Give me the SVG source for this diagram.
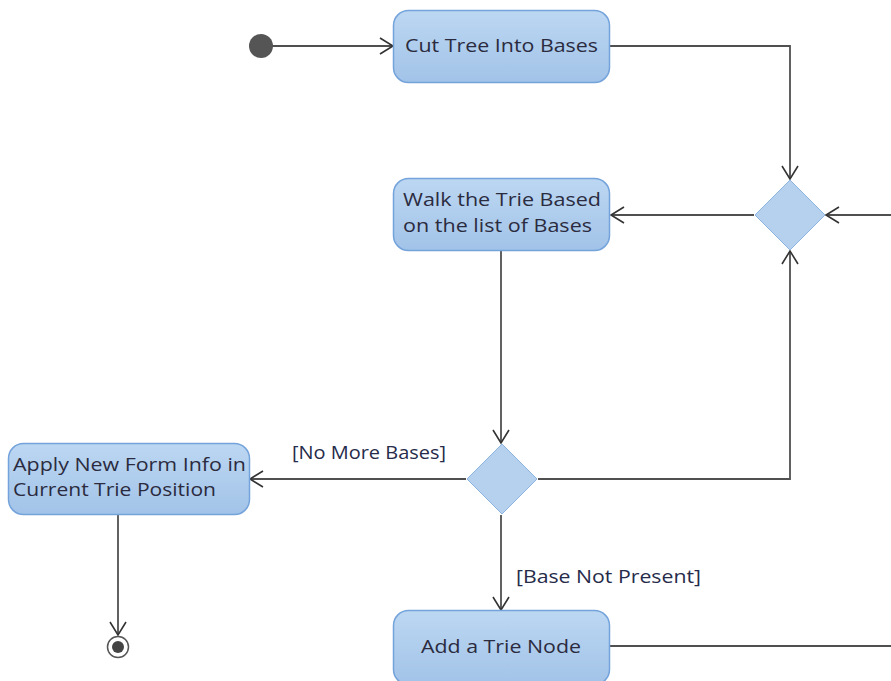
<svg xmlns="http://www.w3.org/2000/svg" width="891" height="681" viewBox="0 0 891 681">
  <defs>
    <linearGradient id="actFill" x1="0" y1="0" x2="0" y2="1">
      <stop offset="0" stop-color="#bcd7f2"/>
      <stop offset="1" stop-color="#a2c3e8"/>
    </linearGradient>
    <marker id="open" markerUnits="userSpaceOnUse" markerWidth="18" markerHeight="20" refX="14" refY="9" orient="auto" overflow="visible">
      <path d="M1,1 L14,9 L1,17" fill="none" stroke="#333" stroke-width="1.6"/>
    </marker>
    <style>
      .act rect { fill: url(#actFill); stroke: #74a3db; stroke-width: 1.5; }
      .dec path { fill: #b6d1ee; stroke: #8db3e2; stroke-width: 1; }
      .lbl { font-family: "Open Sans", "DejaVu Sans", sans-serif; font-size: 19px; fill: #2b2b3f; }
      .grd { font-family: "Open Sans", "DejaVu Sans", sans-serif; font-size: 17.5px; fill: #262b4a; }
      .edge { fill: none; stroke: #505050; stroke-width: 1.8; }
      .arr { marker-end: url(#open); }
    </style>
  </defs>

  <!-- connectors -->
  <g id="connectors">
    <path class="edge arr" d="M272,46 H393"/>
    <path class="edge arr" d="M610,46 H790 V179"/>
    <path class="edge arr" d="M891,215 H826"/>
    <path class="edge arr" d="M754,215 H611"/>
    <path class="edge arr" d="M501,251 V443"/>
    <path class="edge arr" d="M538,479 H790 V251"/>
    <path class="edge arr" d="M466,479 H250"/>
    <path class="edge arr" d="M118,515 V635"/>
    <path class="edge arr" d="M501,515 V610"/>
    <path class="edge" d="M610,646 H891"/>
    <text class="grd" x="292" y="459" textLength="154" lengthAdjust="spacingAndGlyphs">[No More Bases]</text>
    <text class="grd" x="516" y="583" textLength="185" lengthAdjust="spacingAndGlyphs">[Base Not Present]</text>
  </g>

  <!-- initial node -->
  <g id="start">
    <circle cx="261" cy="46" r="12" fill="#555"/>
  </g>

  <g id="cutTree" class="act">
    <rect x="393.5" y="10.5" width="216" height="72" rx="15"/>
    <text class="lbl" x="405" y="52" textLength="193" lengthAdjust="spacingAndGlyphs">Cut Tree Into Bases</text>
  </g>

  <g id="merge" class="dec">
    <path d="M790,180 L825,215 L790,250 L755,215 Z"/>
  </g>

  <g id="walkTrie" class="act">
    <rect x="393.5" y="178.5" width="216" height="72" rx="15"/>
    <text class="lbl" x="403" y="206" textLength="198" lengthAdjust="spacingAndGlyphs">Walk the Trie Based</text>
    <text class="lbl" x="403" y="232" textLength="189" lengthAdjust="spacingAndGlyphs">on the list of Bases</text>
  </g>

  <g id="decide" class="dec">
    <path d="M502,444 L537,479 L502,514 L467,479 Z"/>
  </g>

  <g id="applyForm" class="act">
    <rect x="8.5" y="443.5" width="241" height="71" rx="15"/>
    <text class="lbl" x="13" y="471" textLength="233" lengthAdjust="spacingAndGlyphs">Apply New Form Info in</text>
    <text class="lbl" x="13" y="496" textLength="203" lengthAdjust="spacingAndGlyphs">Current Trie Position</text>
  </g>

  <g id="addNode" class="act">
    <rect x="393.5" y="610.5" width="216" height="74" rx="15"/>
    <text class="lbl" x="421" y="653" textLength="160" lengthAdjust="spacingAndGlyphs">Add a Trie Node</text>
  </g>

  <!-- final node -->
  <g id="end">
    <circle cx="118" cy="647" r="10.5" fill="#fff" stroke="#555" stroke-width="1.5"/>
    <circle cx="118" cy="647" r="6" fill="#444"/>
  </g>
</svg>
